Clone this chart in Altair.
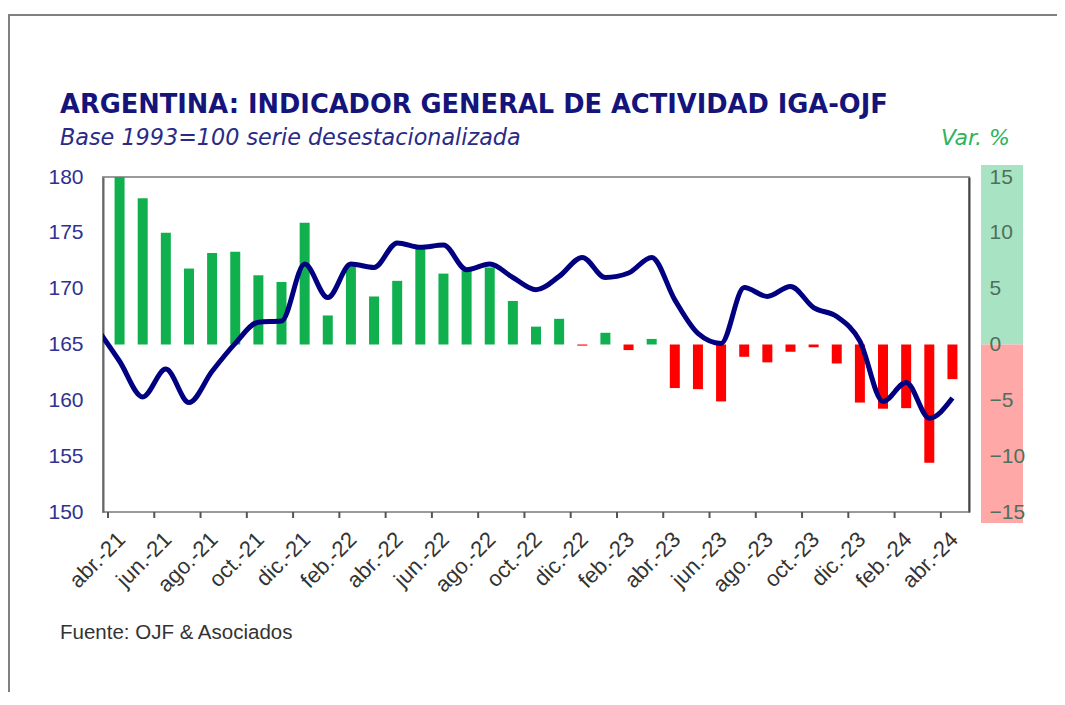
import altair as alt
import pandas as pd

# ---- data ----
months = ['abr.-21', 'may.-21', 'jun.-21', 'jul.-21', 'ago.-21', 'sep.-21', 'oct.-21', 'nov.-21',
          'dic.-21', 'ene.-22', 'feb.-22', 'mar.-22', 'abr.-22', 'may.-22', 'jun.-22', 'jul.-22',
          'ago.-22', 'sep.-22', 'oct.-22', 'nov.-22', 'dic.-22', 'ene.-23', 'feb.-23', 'mar.-23',
          'abr.-23', 'may.-23', 'jun.-23', 'jul.-23', 'ago.-23', 'sep.-23', 'oct.-23', 'nov.-23',
          'dic.-23', 'ene.-24', 'feb.-24', 'mar.-24', 'abr.-24']

# year-on-year change (%), right axis
var_pct = [15.0, 13.1, 10.0, 6.8, 8.2, 8.3, 6.2, 5.6, 10.9, 2.6, 7.2, 4.3, 5.7, 8.65, 6.35, 6.6,
           6.9, 3.9, 1.6, 2.3, -0.1, 1.05, -0.5, 0.5, -3.9, -4.0, -5.1, -1.1, -1.6, -0.65, -0.25,
           -1.7, -5.2, -5.75, -5.7, -10.6, -3.1]

# index level (base 1993=100, s.a.), left axis; first value is mar.-21 (partly visible)
index_prev = 166.5
index_level = [163.5, 160.3, 162.8, 159.8, 162.6, 165.1, 167.0, 167.1, 172.2, 169.2, 172.2, 171.9,
               174.1, 173.7, 173.9, 171.7, 172.2, 171.0, 169.9, 171.1, 172.8, 171.0, 171.4, 172.8,
               169.0, 166.0, 165.1, 170.1, 169.3, 170.2, 168.3, 167.5, 165.3, 159.9, 161.6, 158.4,
               160.2]

left_ticks = [150, 155, 160, 165, 170, 175, 180]
right_ticks = [-15, -10, -5, 0, 5, 10, 15]
label_idx = list(range(0, len(months), 2))
tick_pos = [i - 0.5 for i in label_idx]

W, H = 866, 335

bars_df = pd.DataFrame({'i': list(range(len(months))), 'v': var_pct, 'm': months})
line_df = pd.DataFrame({'i': [-1] + list(range(len(months))), 'lvl': [index_prev] + index_level})
tick_df = pd.DataFrame({'i': tick_pos})
lab_df = pd.DataFrame({'i': label_idx, 'm': [months[k] for k in label_idx]})
one = pd.DataFrame({'a': [0]})

xscale = alt.Scale(domain=[-0.5, len(months) - 0.5], nice=False, zero=False)

# ---- decorations ----
green_band = alt.Chart(one).mark_rect(color='#a8e4c4').encode(
    x=alt.value(878), x2=alt.value(920), y=alt.value(-12), y2=alt.value(H / 2))
red_band = alt.Chart(one).mark_rect(color='#ffa8a8').encode(
    x=alt.value(878), x2=alt.value(920), y=alt.value(H / 2), y2=alt.value(H + 11))

bars = alt.Chart(bars_df).mark_bar(size=10).encode(
    x=alt.X('i:Q', scale=xscale, title=None,
            axis=alt.Axis(values=label_idx, labels=False, ticks=False, grid=False,
                          domainColor='#8a8a8a', domainWidth=2)),
    y=alt.Y('v:Q', scale=alt.Scale(domain=[-15, 15], nice=False), title=None,
            axis=alt.Axis(orient='right', values=right_ticks, ticks=False, grid=False,
                          labelFont='Liberation Sans', labelFontSize=21, labelColor='#4f6f5a',
                          labelPadding=20, domainColor='#444444', domainWidth=2, zindex=1)),
    y2=alt.datum(0),
    color=alt.condition(alt.datum.v >= 0, alt.value('#10b04e'), alt.value('#ff0000')),
)

line = alt.Chart(line_df).mark_line(color='#000080', strokeWidth=5, interpolate='monotone',
                                    clip=True).encode(
    x=alt.X('i:Q', scale=xscale, axis=None),
    y=alt.Y('lvl:Q', scale=alt.Scale(domain=[150, 180], nice=False, zero=False), title=None,
            axis=alt.Axis(orient='left', values=left_ticks, ticks=False, grid=False,
                          labelFont='Liberation Sans', labelFontSize=21, labelColor='#2e3192',
                          labelPadding=20, domainColor='#666666', domainWidth=2)),
)

xticks = alt.Chart(tick_df).mark_rule(color='#555555', strokeWidth=2).encode(
    x=alt.X('i:Q', scale=xscale, axis=None), y=alt.value(H), y2=alt.value(H + 6))

xlabels = alt.Chart(lab_df).mark_text(angle=315, align='right', baseline='middle', dx=3,
                                      font='Liberation Sans', fontSize=22,
                                      color='#333333').encode(
    x=alt.X('i:Q', scale=xscale, axis=None), y=alt.value(H + 26), text='m:N')


def txt(text, x, y, size, color, font, weight='normal', style='normal', align='left'):
    return alt.Chart(one).mark_text(text=text, fontSize=size, color=color, font=font,
                                    fontWeight=weight, fontStyle=style, align=align,
                                    baseline='alphabetic').encode(
        x=alt.value(x), y=alt.value(y))


title = txt('ARGENTINA: INDICADOR GENERAL DE ACTIVIDAD IGA-OJF', -43, -64, 25.7, '#14147a',
            'DejaVu Sans', weight='bold')
subtitle = txt('Base 1993=100 serie desestacionalizada', -43, -32, 22.3, '#2a2a88',
               'DejaVu Sans', style='italic')
varpct = txt('Var. %', 907, -32, 22, '#2db35a', 'DejaVu Sans', style='italic', align='right')
source = txt('Fuente: OJF & Asociados', -43, 462, 20.5, '#333333', 'Liberation Sans')

border_top = alt.Chart(one).mark_rule(color='#808080', strokeWidth=2).encode(
    x=alt.value(-95), x2=alt.value(W + 100), y=alt.value(-162))
border_left = alt.Chart(one).mark_rule(color='#808080', strokeWidth=2).encode(
    x=alt.value(-94), y=alt.value(-162), y2=alt.value(H + 200))

chart = alt.layer(
    green_band, red_band, bars, line, xticks, xlabels, title, subtitle, varpct, source,
    border_top, border_left
).resolve_scale(y='independent').properties(
    width=W, height=H,
    padding={'left': 95, 'top': 169, 'right': 88, 'bottom': 180},
    autosize=alt.AutoSizeParams(type='none'),
    background='white'
).configure_view(stroke='#9a9a9a', strokeWidth=2)

chart.save("out.html", embed_options={"renderer": "svg", "actions": False})
